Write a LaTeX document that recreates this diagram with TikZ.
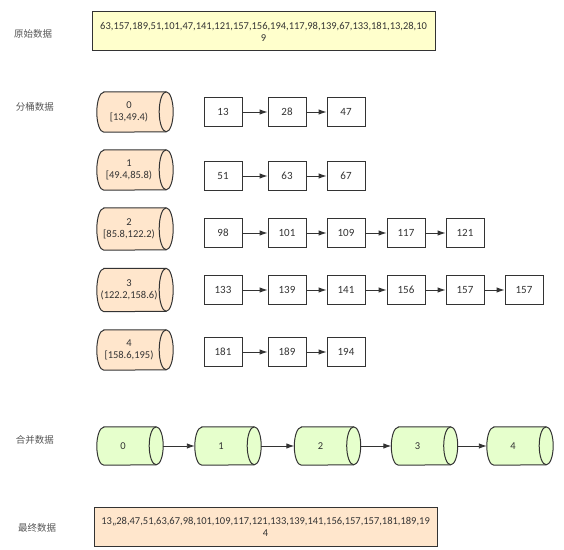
\documentclass[tikz,border=0pt]{standalone}
\usepackage{fontspec}
\setmainfont{Carlito}
\newfontfamily\cjk{Noto Sans CJK SC}
\usetikzlibrary{arrows.meta}
\definecolor{lineC}{HTML}{333333}
\definecolor{yel}{HTML}{FFFFCC}
\definecolor{peach}{HTML}{FFE6CC}
\definecolor{grn}{HTML}{E6FFCC}
\definecolor{lbl}{HTML}{555555}
\definecolor{txt}{HTML}{333333}
\newcommand\mycyl[4]{%
  \draw[lineC, line width=1pt, fill=#2]
    ([xshift=#3]#1.north west) -- ([xshift=-#3]#1.north east)
    arc[start angle=90,end angle=-90,x radius=#3,y radius=#4]
    -- ([xshift=#3]#1.south west)
    arc[start angle=270,end angle=90,x radius=#3,y radius=#4] -- cycle;
  \draw[lineC, line width=1pt] ([xshift=-#3]#1.north east)
    arc[start angle=90,end angle=270,x radius=#3,y radius=#4];
}
\tikzset{
  x=1pt, y=1pt,
  lab/.style={font=\cjk\fontsize{9.5}{11}\selectfont, text=lbl},
  databox/.style={draw=lineC, line width=1pt, minimum width=343pt, minimum height=39pt, align=center, text=txt, font=\fontsize{10.5}{12}\selectfont, inner sep=0pt},
  item/.style={draw=lineC, line width=0.9pt, fill=white, minimum width=38pt, minimum height=29pt, inner sep=0pt, text=txt, font=\fontsize{11}{12}\selectfont},
  bucket/.style={minimum width=76pt, minimum height=40pt, inner sep=0pt},
  gcyl/.style={minimum width=66pt, minimum height=38pt, inner sep=0pt},
  ctext/.style={text=txt, align=center, font=\fontsize{10.5}{11.5}\selectfont, inner sep=0pt},
  arr/.style={lineC, line width=0.9pt, -{Latex[length=8pt,width=5.5pt]}}
}
\begin{document}
\begin{tikzpicture}
\useasboundingbox (0,0) rectangle (564,549);
% labels
\node[lab] (l1) at (33,515) {原始数据};
\node[lab] (l2) at (35,442) {分桶数据};
\node[lab] (l3) at (35,109) {合并数据};
\node[lab] (l4) at (37,21) {最终数据};
% top box
\node[databox, fill=yel] (orig) at (263.5,517.5) {63,157,189,51,101,47,141,121,157,156,194,117,98,139,67,133,181,13,28,10\\9};
% buckets
\node[bucket] (b0) at (135,437) {};
\node[bucket] (b1) at (135,379) {};
\node[bucket, minimum height=42pt] (b2) at (135,320) {};
\node[bucket, minimum height=43pt] (b3) at (135,259) {};
\node[bucket] (b4) at (135,199) {};
\mycyl{b0}{peach}{7pt}{20pt}
\mycyl{b1}{peach}{7pt}{20pt}
\mycyl{b2}{peach}{7pt}{21pt}
\mycyl{b3}{peach}{7pt}{21.5pt}
\mycyl{b4}{peach}{7pt}{20pt}
\node[ctext] (t0) at ([xshift=-6pt]b0.center) {0\\{[}13,49.4)};
\node[ctext] (t1) at ([xshift=-6pt]b1.center) {1\\{[}49.4,85.8)};
\node[ctext] (t2) at ([xshift=-6pt]b2.center) {2\\{[}85.8,122.2)};
\node[ctext] (t3) at ([xshift=-6pt]b3.center) {3\\(122.2,158.6)};
\node[ctext] (t4) at ([xshift=-6pt]b4.center) {4\\{[}158.6,195)};
% row 0
\node[item] (r0a) at (223,437) {13};
\node[item] (r0b) at (287,437) {28};
\node[item] (r0c) at (346,437) {47};
\draw[arr] (r0a) -- (r0b);
\draw[arr] (r0b) -- (r0c);
% row 1
\node[item] (r1a) at (223,373) {51};
\node[item] (r1b) at (287,373) {63};
\node[item] (r1c) at (346,373) {67};
\draw[arr] (r1a) -- (r1b);
\draw[arr] (r1b) -- (r1c);
% row 2
\node[item] (r2a) at (223,316) {98};
\node[item] (r2b) at (287,316) {101};
\node[item] (r2c) at (346,316) {109};
\node[item] (r2d) at (406,316) {117};
\node[item] (r2e) at (465,316) {121};
\draw[arr] (r2a) -- (r2b);
\draw[arr] (r2b) -- (r2c);
\draw[arr] (r2c) -- (r2d);
\draw[arr] (r2d) -- (r2e);
% row 3
\node[item] (r3a) at (223,259) {133};
\node[item] (r3b) at (287,259) {139};
\node[item] (r3c) at (346,259) {141};
\node[item] (r3d) at (406,259) {156};
\node[item] (r3e) at (465,259) {157};
\node[item] (r3f) at (524,259) {157};
\draw[arr] (r3a) -- (r3b);
\draw[arr] (r3b) -- (r3c);
\draw[arr] (r3c) -- (r3d);
\draw[arr] (r3d) -- (r3e);
\draw[arr] (r3e) -- (r3f);
% row 4
\node[item] (r4a) at (223,197) {181};
\node[item] (r4b) at (287,197) {189};
\node[item] (r4c) at (346,197) {194};
\draw[arr] (r4a) -- (r4b);
\draw[arr] (r4b) -- (r4c);
% merged
\node[gcyl] (g0) at (130,103) {};
\node[gcyl] (g1) at (228,103) {};
\node[gcyl] (g2) at (327.5,103) {};
\node[gcyl] (g3) at (424.5,103) {};
\node[gcyl] (g4) at (520,103) {};
\mycyl{g0}{grn}{7pt}{19pt}
\mycyl{g1}{grn}{7pt}{19pt}
\mycyl{g2}{grn}{7pt}{19pt}
\mycyl{g3}{grn}{7pt}{19pt}
\mycyl{g4}{grn}{7pt}{19pt}
\node[ctext] (gt0) at ([xshift=-7pt]g0.center) {0};
\node[ctext] (gt1) at ([xshift=-7pt]g1.center) {1};
\node[ctext] (gt2) at ([xshift=-7pt]g2.center) {2};
\node[ctext] (gt3) at ([xshift=-7pt]g3.center) {3};
\node[ctext] (gt4) at ([xshift=-7pt]g4.center) {4};
\draw[arr] (g0.east) -- (g1.west);
\draw[arr] (g1.east) -- (g2.west);
\draw[arr] (g2.east) -- (g3.west);
\draw[arr] (g3.east) -- (g4.west);
% final
\node[databox, fill=peach] (final) at (265.5,22.5) {13,,28,47,51,63,67,98,101,109,117,121,133,139,141,156,157,157,181,189,19\\4};
\end{tikzpicture}
\end{document}
